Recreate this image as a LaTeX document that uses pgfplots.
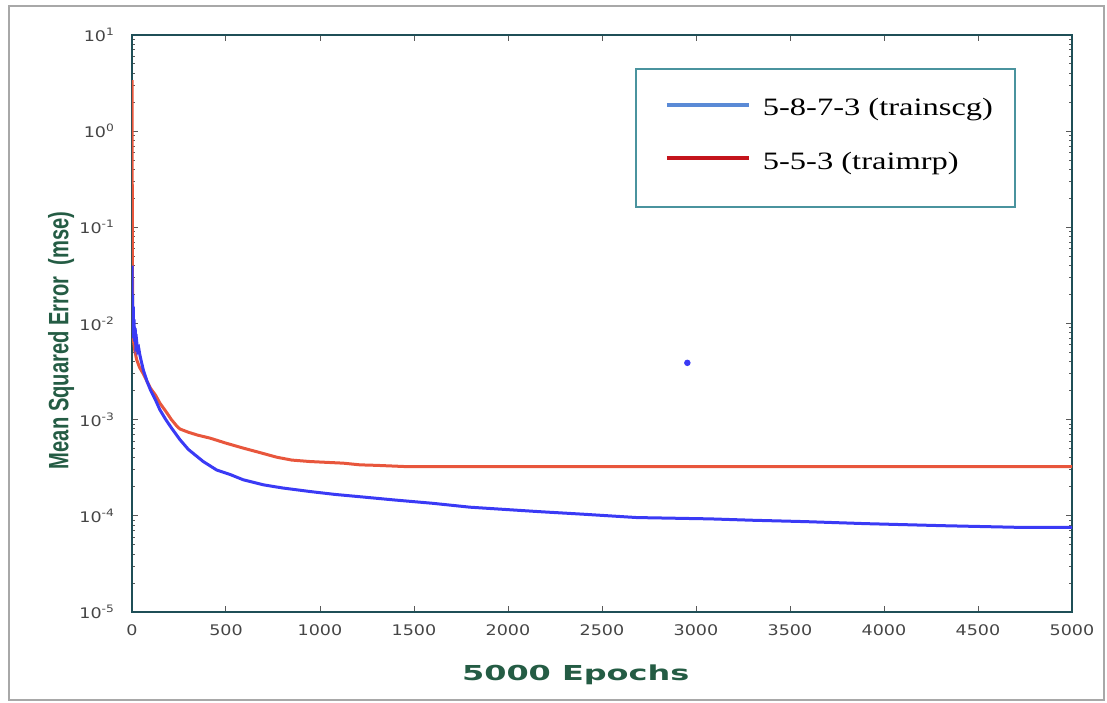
\documentclass[border=0pt]{standalone}
\usepackage{fontspec}
\usepackage{pgfplots}
\pgfplotsset{compat=1.18}
\newfontfamily\tickfont[FakeStretch=1.2]{DejaVu Sans}
\newfontfamily\xlabfont[FakeStretch=1.55]{DejaVu Sans}
\newfontfamily\ylabfont[FakeStretch=0.72]{Liberation Sans}
\newfontfamily\legfont[FakeStretch=1.3]{Liberation Serif}
\definecolor{axisteal}{HTML}{1F4F57}
\definecolor{labgreen}{HTML}{245C44}
\definecolor{ticktext}{HTML}{454545}
\definecolor{plotblue}{HTML}{3A3AF5}
\definecolor{plotred}{HTML}{E8563C}
\definecolor{legblue}{HTML}{5A8AD6}
\definecolor{legred}{HTML}{C4141C}
\definecolor{legteal}{HTML}{4A939E}
\definecolor{framegray}{HTML}{A8A8A8}

\pgfplotstableread{
x y
0 3.4
1 0.6
2 0.06
3 0.02
5 0.009
7 0.0068
15 0.0052
25 0.0042
40 0.0035
60 0.0030
80 0.0025
100 0.0021
125 0.0018
149 0.00148
180 0.00122
210 0.00100
240 0.00085
255 0.00080
300 0.00074
350 0.00069
415 0.000643
500 0.00057
592 0.000506
680 0.000455
770 0.000407
850 0.000380
947 0.000367
1124 0.000353
1213 0.000339
1300 0.000335
1460 0.000325
5000 0.000325
}\redtable

\pgfplotstableread{
x y
0 0.040
2 0.012
3 0.020
5 0.008
7 0.015
9 0.007
11 0.011
14 0.0065
17 0.009
20 0.006
25 0.0065
30 0.0052
36 0.0055
42 0.0047
50 0.0040
60 0.0033
80 0.0025
100 0.0020
125 0.0016
149 0.00126
180 0.00100
210 0.00082
255 0.00062
300 0.00049
379 0.000367
450 0.00030
520 0.00027
592 0.000237
700 0.000210
800 0.000195
947 0.000179
1080 0.000167
1213 0.000158
1400 0.000146
1600 0.000135
1798 0.000123
2000 0.000116
2152 0.000111
2400 0.000104
2684 0.000096
3074 0.000093
3300 0.000090
3588 0.000087
3900 0.000083
4315 0.000079
4705 0.000076
5000 0.000076
}\bluetable

\begin{document}
\begin{tikzpicture}
\useasboundingbox (0,0) rectangle (553.5pt,351pt);
\draw[framegray, line width=1pt] (4.5pt,1pt) rectangle (552pt,348pt);
\begin{axis}[
  at={(66pt,45pt)}, anchor=south west,
  width=470pt, height=288.5pt, scale only axis,
  xmin=0, xmax=5000,
  ymode=log, ymin=1e-5, ymax=10,
  xtick={0,500,...,5000},
  xticklabels={0,500,1000,1500,2000,2500,3000,3500,4000,4500,5000},
  ytick={1e-5,1e-4,1e-3,1e-2,1e-1,1,10},
  yticklabels={10\textsuperscript{-5},10\textsuperscript{-4},10\textsuperscript{-3},10\textsuperscript{-2},10\textsuperscript{-1},10\textsuperscript{0},10\textsuperscript{1}},
  axis line style={draw=axisteal, line width=1.2pt},
  tick style={color=black!65, line width=0.5pt},
  major tick length=3pt, minor tick length=1.5pt,
  tick align=inside,
  xticklabel style={font=\tickfont\fontsize{7.3}{8}\selectfont, text=ticktext, yshift=-3pt},
  yticklabel style={font=\tickfont\fontsize{7.3}{8}\selectfont, text=ticktext, xshift=-5pt},
  xlabel={5000 Epochs},
  xlabel style={at={(axis description cs:0.472,-0.118)}, anchor=base, font=\xlabfont\bfseries\fontsize{10.3}{12}\selectfont, text=labgreen},
  ylabel={Mean Squared Error\ \ (mse)},
  ylabel style={at={(axis description cs:-0.0755,0.471)}, anchor=center, font=\ylabfont\bfseries\fontsize{14}{16}\selectfont, text=labgreen},
  legend cell align=left,
  legend style={at={(axis description cs:0.535,0.943)}, anchor=north west, draw=legteal, line width=1pt, fill=white,
    font=\legfont\fontsize{12.5}{14}\selectfont, inner xsep=9pt, inner ysep=12.7pt, row sep=12.7pt,
    nodes={anchor=base west}},
  legend image code/.code={\path[draw=none] (0pt,0pt) (52.5pt,0pt); \draw[#1] (6.5pt,5.5pt) -- (47.5pt,5.5pt);},
]
\addplot[color=plotred, line width=1.5pt, forget plot] table[x=x,y=y] {\redtable};
\addplot[color=plotblue, line width=1.5pt, forget plot] table[x=x,y=y] {\bluetable};
\addplot[only marks, mark=*, mark size=1.4pt, color=plotblue, forget plot] coordinates {(2954,0.0039)};
\addlegendimage{color=legblue, line width=2pt}
\addlegendentry{5-8-7-3 (trainscg)}
\addlegendimage{color=legred, line width=2pt}
\addlegendentry[text depth=4pt]{5-5-3 (traimrp)}
\end{axis}
\end{tikzpicture}
\end{document}
